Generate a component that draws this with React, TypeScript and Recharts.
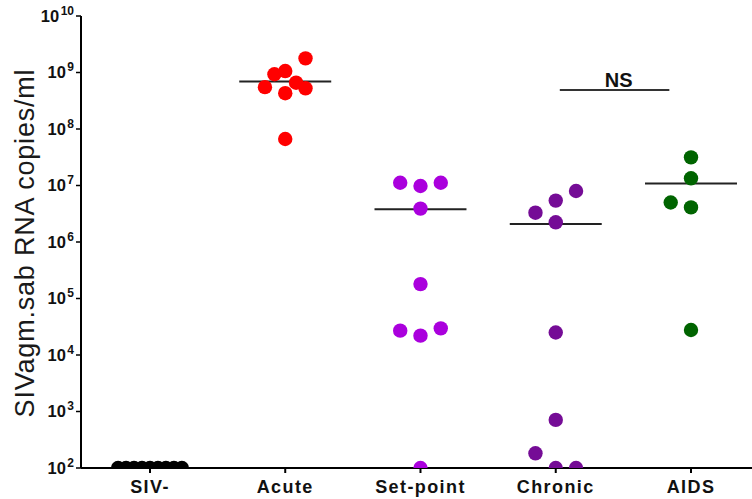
import React from 'react';
import { ScatterChart, Scatter, XAxis, YAxis, ReferenceLine, ReferenceDot, Label } from 'recharts';

// Categories
const categories = ['SIV-', 'Acute', 'Set-point', 'Chronic', 'AIDS'];
const yTicks = [1e2, 1e3, 1e4, 1e5, 1e6, 1e7, 1e8, 1e9, 1e10];

// Values (copies/ml) and horizontal jitter (category units) per group
const sivNegValues = [100, 100, 100, 100, 100, 100, 100, 100, 100];
const sivNegJitter = [-0.236, -0.177, -0.118, -0.059, 0, 0.059, 0.118, 0.177, 0.236];

const acuteValues = [1.78e9, 1.06e9, 9.3e8, 6.6e8, 5.5e8, 5.25e8, 4.3e8, 6.65e7];
const acuteJitter = [0.15, 0, -0.08, 0.08, -0.15, 0.15, 0, 0];
const acuteMean = 6.9e8;

const setPointValues = [1.12e7, 9.8e6, 1.12e7, 3.9e6, 1.8e5, 2.7e4, 2.2e4, 2.96e4, 100];
const setPointJitter = [-0.15, 0, 0.15, 0, 0, -0.15, 0, 0.15, 0];
const setPointMean = 3.8e6;

const chronicValues = [8.0e6, 5.4e6, 3.3e6, 2.23e6, 2.5e4, 7.1e2, 1.82e2, 100, 100];
const chronicJitter = [0.15, 0, -0.15, 0, 0, 0, -0.15, 0, 0.15];
const chronicMean = 2.08e6;

const aidsValues = [3.15e7, 1.34e7, 5.0e6, 4.1e6, 2.77e4];
const aidsJitter = [0, 0, -0.15, 0, 0];
const aidsMean = 1.09e7;

// NS comparison bar (Chronic vs AIDS)
const nsLevel = 4.9e8;
const nsFrom = 3.03;
const nsTo = 3.84;

const build = (cat: number, vals: number[], jit: number[]) =>
  vals.map((v, i) => ({ x: cat + jit[i], y: v }));

const groups = [
  { name: 'SIV-', cat: 0, data: build(0, sivNegValues, sivNegJitter), color: '#000000', mean: null as number | null },
  { name: 'Acute', cat: 1, data: build(1, acuteValues, acuteJitter), color: '#ff0000', mean: acuteMean },
  { name: 'Set-point', cat: 2, data: build(2, setPointValues, setPointJitter), color: '#aa00dd', mean: setPointMean },
  { name: 'Chronic', cat: 3, data: build(3, chronicValues, chronicJitter), color: '#750c96', mean: chronicMean },
  { name: 'AIDS', cat: 4, data: build(4, aidsValues, aidsJitter), color: '#006400', mean: aidsMean },
];

const FONT = '"Liberation Sans", Arial, sans-serif';

const YTick = (props: any) => {
  const { x, y, payload } = props;
  const e = Math.round(Math.log10(payload.value));
  return (
    <text x={x} y={y + 5.5} textAnchor="end" fontFamily={FONT} fontWeight="bold" fontSize={16.5} fill="#111">
      <tspan>10</tspan>
      <tspan fontSize={12} dx={1.5} dy={-7}>{e}</tspan>
    </text>
  );
};

const XTick = (props: any) => {
  const { x, y, payload } = props;
  const i = Math.round(payload.value);
  return (
    <text x={x} y={y + 12} textAnchor="middle" fontFamily={FONT} fontWeight="bold" fontSize={18} letterSpacing={1.4} fill="#111">
      {categories[i]}
    </text>
  );
};

const renderTitle = () => (
  <text
    transform="translate(25,243) rotate(-90)"
    textAnchor="middle"
    dominantBaseline="central"
    fontFamily={FONT}
    fontSize={27}
    letterSpacing={0.8}
    fill="#1a1a1a"
  >
    SIVagm.sab RNA copies/ml
  </text>
);

const dotShape = (color: string) => (p: any) => <circle cx={p.cx} cy={p.cy} r={7.2} fill={color} />;

export default function App() {
  return (
    <div style={{ position: 'absolute', left: 0, top: 0, background: '#fff' }}>
      <ScatterChart width={752} height={499} margin={{ top: 16, right: 0, left: 0, bottom: 0 }}>
        <XAxis
          type="number"
          dataKey="x"
          domain={[-0.51, 4.451]}
          ticks={[0, 1, 2, 3, 4]}
          allowDataOverflow
          height={31}
          tickSize={5}
          tickMargin={8}
          tick={<XTick />}
          axisLine={{ stroke: '#000', strokeWidth: 2 }}
          tickLine={{ stroke: '#000', strokeWidth: 2 }}
        />
        <YAxis
          type="number"
          dataKey="y"
          scale="log"
          domain={[1e2, 1e10]}
          ticks={yTicks}
          allowDataOverflow
          width={81}
          tickSize={5}
          tickMargin={2}
          tick={<YTick />}
          axisLine={{ stroke: '#000', strokeWidth: 2 }}
          tickLine={{ stroke: '#000', strokeWidth: 1.5 }}
        >
          <Label content={renderTitle} />
        </YAxis>
        {groups
          .filter((g) => g.mean !== null)
          .map((g) => (
            <ReferenceLine
              key={'m' + g.name}
              segment={[
                { x: g.cat - 0.34, y: g.mean as number },
                { x: g.cat + 0.34, y: g.mean as number },
              ]}
              stroke="#222"
              strokeWidth={2}
            />
          ))}
        <ReferenceLine
          segment={[
            { x: nsFrom, y: nsLevel },
            { x: nsTo, y: nsLevel },
          ]}
          stroke="#333"
          strokeWidth={2}
        />
        <ReferenceDot
          x={(nsFrom + nsTo) / 2 + 0.03}
          y={nsLevel}
          r={0}
          shape={(p: any) => (
            <text x={p.cx} y={p.cy - 3} textAnchor="middle" fontFamily={FONT} fontWeight="bold" fontSize={20} fill="#111">
              NS
            </text>
          )}
        />
        {groups.map((g) => (
          <Scatter key={g.name} name={g.name} data={g.data} shape={dotShape(g.color)} isAnimationActive={false} />
        ))}
      </ScatterChart>
    </div>
  );
}
